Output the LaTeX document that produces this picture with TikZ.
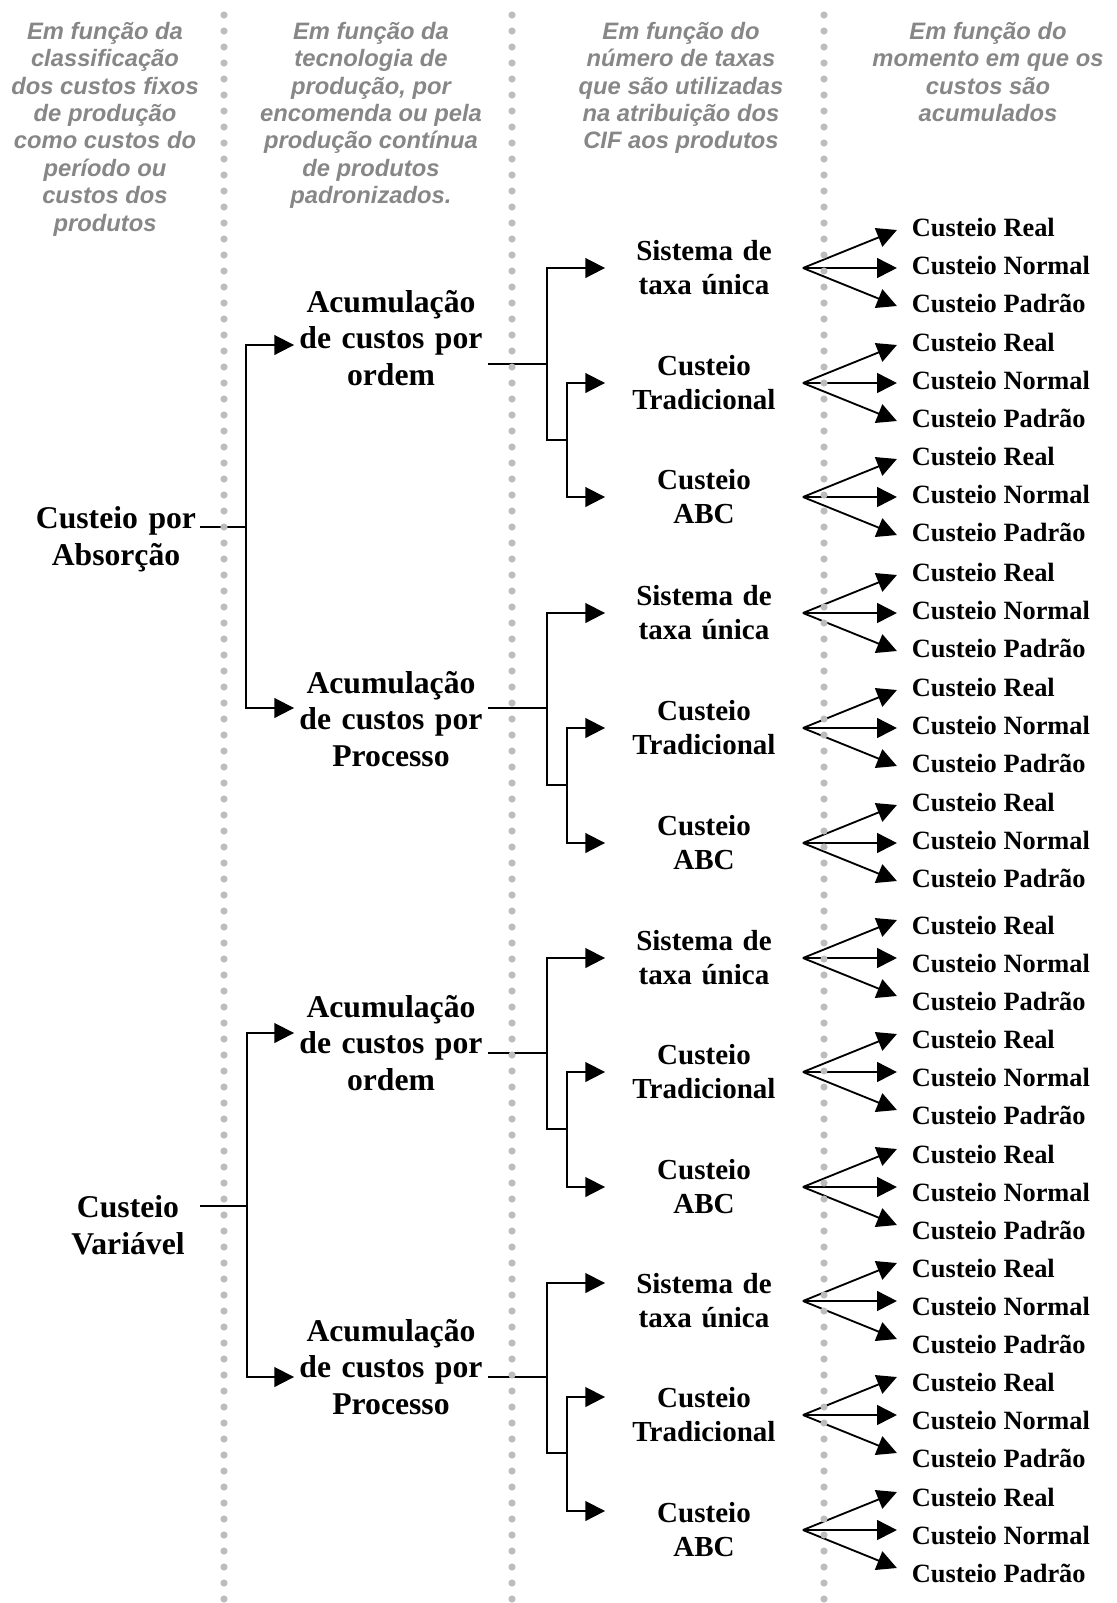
\documentclass[tikz,border=0pt]{standalone}
\usepackage{fontspec}
\setmainfont{Liberation Serif}
\setsansfont{Liberation Sans}
\usetikzlibrary{arrows.meta,calc}
\definecolor{headgray}{RGB}{135,135,135}
\definecolor{dotgray}{RGB}{188,188,188}
\newlength\px
\setlength\px{0.3788pt}
\tikzset{
	head/.style={anchor=north,inner sep=0,align=center,text=headgray,font=\fontsize{9}{10.4}\selectfont\sffamily\bfseries\itshape},
	levelone/.style={inner sep=0,align=center,font=\fontsize{12}{14}\selectfont\bfseries},
	leveltwo/.style={inner sep=0,align=center,text width=192\px,font=\fontsize{12}{13.8}\selectfont\bfseries},
	levelthree/.style={inner sep=0,align=center,text width=196\px,font=\fontsize{11}{12.9}\selectfont\bfseries},
	leaf/.style={anchor=west,inner ysep=0,inner xsep=14\px,font=\fontsize{10}{12}\selectfont\bfseries},
	arr/.style={-{Triangle[length=7.5pt,width=7.5pt]}},
	sep/.style={dotgray,line width=2.7pt,line cap=round,dash pattern=on 0pt off 16\px},
}
\begin{document}
\begin{tikzpicture}[x=0.3788pt,y=-0.3788pt,line width=0.7pt]
	\useasboundingbox (0,0) rectangle (1117,1603);
	\node[head] (h1) at (105,21) {Em função da\\classificação\\dos custos fixos\\de produção\\como custos do\\período ou\\custos dos\\produtos};
	\node[head] (h2) at (371,21) {Em função da\\tecnologia de\\produção, por\\encomenda ou pela\\produção contínua\\de produtos\\padronizados.};
	\node[head] (h3) at (681,21) {Em função do\\número de taxas\\que são utilizadas\\na atribuição dos\\CIF aos produtos};
	\node[head] (h4) at (988,21) {Em função do\\momento em que os\\custos são\\acumulados};
	\node[levelone,text width=166\px] (abs) at (116,539) {Custeio por\\Absorção};
	\node[levelone,text width=142\px] (var) at (128,1225) {Custeio\\Variável};
	\node[leveltwo] (ord1) at (391,338) {Acumulação\\de custos por\\ordem};
	\node[leveltwo] (pro1) at (391,719) {Acumulação\\de custos por\\Processo};
	\node[leveltwo] (ord2) at (391,1043) {Acumulação\\de custos por\\ordem};
	\node[leveltwo] (pro2) at (391,1367) {Acumulação\\de custos por\\Processo};
	\node[levelthree] (s1) at (704,268) {Sistema de\\taxa única};
	\node[levelthree] (t1) at (704,383) {Custeio\\Tradicional};
	\node[levelthree] (c1) at (704,497) {Custeio\\ABC};
	\node[levelthree] (s2) at (704,613) {Sistema de\\taxa única};
	\node[levelthree] (t2) at (704,728) {Custeio\\Tradicional};
	\node[levelthree] (c2) at (704,843) {Custeio\\ABC};
	\node[levelthree] (s3) at (704,958) {Sistema de\\taxa única};
	\node[levelthree] (t3) at (704,1072) {Custeio\\Tradicional};
	\node[levelthree] (c3) at (704,1187) {Custeio\\ABC};
	\node[levelthree] (s4) at (704,1301) {Sistema de\\taxa única};
	\node[levelthree] (t4) at (704,1415) {Custeio\\Tradicional};
	\node[levelthree] (c4) at (704,1530) {Custeio\\ABC};
	\coordinate (k1) at (246,527);
	\draw (k1 -| abs.east) -- (k1);
	\draw[arr] (k1) |- ($(ord1.west)+(0,7)$);
	\draw[arr] (k1) |- ($(pro1.west)+(0,-11)$);
	\coordinate (k2) at (247,1206);
	\draw (k2 -| var.east) -- (k2);
	\draw[arr] (k2) |- ($(ord2.west)+(0,-10)$);
	\draw[arr] (k2) |- ($(pro2.west)+(0,10)$);
	\coordinate (m1) at (547,364);
	\draw (m1 -| ord1.east) -- (m1);
	\draw[arr] (m1) |- (s1.west);
	\draw (m1) -- (547,440) -- ++(20,0) coordinate (q1);
	\draw[arr] (q1) |- (t1.west);
	\draw[arr] (q1) |- (c1.west);
	\coordinate (m2) at (547,708);
	\draw (m2 -| pro1.east) -- (m2);
	\draw[arr] (m2) |- (s2.west);
	\draw (m2) -- (547,785) -- ++(20,0) coordinate (q2);
	\draw[arr] (q2) |- (t2.west);
	\draw[arr] (q2) |- (c2.west);
	\coordinate (m3) at (547,1053);
	\draw (m3 -| ord2.east) -- (m3);
	\draw[arr] (m3) |- (s3.west);
	\draw (m3) -- (547,1129) -- ++(20,0) coordinate (q3);
	\draw[arr] (q3) |- (t3.west);
	\draw[arr] (q3) |- (c3.west);
	\coordinate (m4) at (547,1377);
	\draw (m4 -| pro2.east) -- (m4);
	\draw[arr] (m4) |- ($(s4.west)+(0,-18)$);
	\draw (m4) -- (547,1453) -- ++(20,0) coordinate (q4);
	\draw[arr] (q4) |- ($(t4.west)+(0,-18)$);
	\draw[arr] (q4) |- ($(c4.west)+(0,-19)$);
	\foreach \f/\d in {s1/-3,t1/-3,c1/-3,s2/-3,t2/-3,c2/-3,s3/5,t3/5,c3/5,s4/5,t4/5,c4/5}
		\foreach \k/\w/\o in {r/Real/-38,n/Normal/0,p/Padrão/38} {
			\node[leaf] (\f\k) at ($(\f.east)+(94,\o+\d)$) {Custeio \w};
			\draw[arr] (\f.east) -- ($(\f\k.west)-(0,\d)$);
		}
	\foreach \x in {224,512,824}
		\draw[sep] (\x,15) -- (\x,1603);
\end{tikzpicture}
\end{document}
